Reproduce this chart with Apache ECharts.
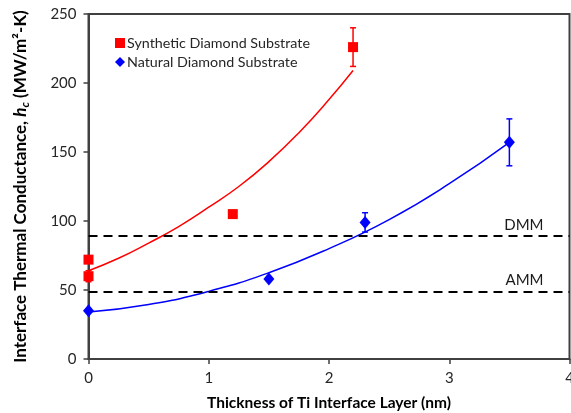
<!DOCTYPE html>
<html>
<head>
<meta charset="utf-8">
<script src="https://cdn.jsdelivr.net/npm/echarts@6/dist/echarts.min.js"></script>
<style>
  html, body { margin: 0; padding: 0; background: #fff; }
  #chart { width: 571px; height: 413px; }
</style>
</head>
<body>
<div id="chart"></div>
<script>
// Measured interface conductance (MW/m^2-K) vs. Ti layer thickness (nm)
const synthX = [0, 0, 1.2, 2.2];
const synthY = [72, 60, 105, 226];
const synthErr = [0, 4, 0, 14];

const naturalX = [0, 1.5, 2.3, 3.5];
const naturalY = [35, 58, 99, 157];
const naturalErr = [0, 0, 7, 17];

// Trend curves through each data set
const synthFitX = [0, 0.25, 0.5, 0.75, 1, 1.25, 1.5, 1.75, 2, 2.2];
const synthFitY = [64, 73, 84, 96, 110, 125, 143, 164, 188, 209];
const naturalFitX = [0, 0.5, 1, 1.5, 2, 2.5, 3, 3.5];
const naturalFitY = [34, 39.5, 49, 62.5, 80, 101, 127, 157];

// Model predictions (horizontal reference lines)
const modelNames = ['DMM', 'AMM'];
const modelValues = [89, 49];

const xTicks = [0, 1, 2, 3, 4];
const yTicks = [0, 50, 100, 150, 200, 250];

const FONT = 'Lato, "Open Sans", sans-serif';
const RED = '#ff0000';
const BLUE = '#0000ff';
const AXIS = '#404040';

const zip = (xs, ys) => xs.map((x, i) => [x, ys[i]]);

function errorBars(name, xs, ys, es, color) {
  const data = [];
  xs.forEach((x, i) => { if (es[i] > 0) data.push([x, ys[i] - es[i], ys[i] + es[i]]); });
  return {
    name: name,
    type: 'custom',
    data: data,
    encode: { x: 0, y: [1, 2] },
    silent: true,
    z: 3,
    renderItem(params, api) {
      const lo = api.coord([api.value(0), api.value(1)]);
      const hi = api.coord([api.value(0), api.value(2)]);
      const w = 3;
      const style = { stroke: color, lineWidth: 1.5 };
      return {
        type: 'group',
        children: [
          { type: 'line', shape: { x1: lo[0], y1: lo[1], x2: hi[0], y2: hi[1] }, style },
          { type: 'line', shape: { x1: lo[0] - w, y1: lo[1], x2: lo[0] + w, y2: lo[1] }, style },
          { type: 'line', shape: { x1: hi[0] - w, y1: hi[1], x2: hi[0] + w, y2: hi[1] }, style }
        ]
      };
    }
  };
}

const chart = echarts.init(document.getElementById('chart'), null, { renderer: 'canvas' });

chart.setOption({
  animation: false,
  backgroundColor: '#fff',
  textStyle: { fontFamily: FONT },
  grid: {
    left: 88.5, right: 1.5, top: 14, bottom: 54,
    containLabel: false,
    outerBoundsMode: 'none',
    show: true, borderColor: AXIS, borderWidth: 2, backgroundColor: 'transparent'
  },
  legend: {
    orient: 'vertical',
    left: 115, top: 36, padding: 0,
    itemWidth: 10, itemHeight: 10, itemGap: 5,
    textStyle: { fontFamily: FONT, fontSize: 14.3, color: '#262626', padding: [0, 0, 0, -3] },
    data: [
      { name: 'Synthetic Diamond Substrate', icon: 'rect' },
      { name: 'Natural Diamond Substrate', icon: 'diamond' }
    ]
  },
  xAxis: {
    type: 'value', min: 0, max: 4, interval: 1,
    name: 'Thickness of Ti Interface Layer (nm)',
    nameLocation: 'middle', nameGap: 36,
    nameTextStyle: { fontFamily: FONT, fontSize: 15.5, fontWeight: 'bold', color: '#000' },
    axisLine: { show: true, lineStyle: { color: AXIS, width: 2 } },
    axisTick: { show: true, length: 5, lineStyle: { color: AXIS, width: 1.5 } },
    axisLabel: { fontFamily: FONT, fontSize: 15, color: '#262626', margin: 12 },
    splitLine: { show: false }
  },
  yAxis: {
    type: 'value', min: 0, max: 250, interval: 50,
    name: '{b|Interface Thermal Conductance, }{i|h}{s|c}{b| (MW/m²-K)}',
    nameLocation: 'middle', nameRotate: 90, nameGap: 57,
    nameTextStyle: {
      rich: {
        b: { fontFamily: FONT, fontSize: 17, fontWeight: 'bold', color: '#000', lineHeight: 21 },
        i: { fontFamily: FONT, fontSize: 17, fontWeight: 'bold', fontStyle: 'italic', color: '#000', lineHeight: 21 },
        s: { fontFamily: FONT, fontSize: 12, fontWeight: 'bold', fontStyle: 'italic', color: '#000', lineHeight: 12, verticalAlign: 'bottom' }
      }
    },
    axisLine: { show: true, lineStyle: { color: AXIS, width: 2 } },
    axisTick: { show: true, length: 5, lineStyle: { color: AXIS, width: 1.5 } },
    axisLabel: { fontFamily: FONT, fontSize: 15, color: '#262626', margin: 12 },
    splitLine: { show: false }
  },
  series: [
    {
      name: 'synthetic fit',
      type: 'line',
      data: zip(synthFitX, synthFitY),
      smooth: 0.5,
      showSymbol: false, silent: true,
      lineStyle: { color: RED, width: 1.5 },
      z: 2
    },
    {
      name: 'natural fit',
      type: 'line',
      data: zip(naturalFitX, naturalFitY),
      smooth: 0.5,
      showSymbol: false, silent: true,
      lineStyle: { color: BLUE, width: 1.5 },
      z: 2,
      markLine: {
        silent: true,
        symbol: ['none', 'none'],
        lineStyle: { color: '#000', width: 2, type: [9, 6] },
        label: {
          show: true, position: 'insideEndTop', distance: [26, 4],
          formatter: '{b}', fontFamily: FONT, fontSize: 15, color: '#1a1a1a'
        },
        data: modelNames.map((n, i) => ({ name: n, yAxis: modelValues[i] }))
      }
    },
    errorBars('synthetic error', synthX, synthY, synthErr, RED),
    errorBars('natural error', naturalX, naturalY, naturalErr, BLUE),
    {
      name: 'Synthetic Diamond Substrate',
      type: 'scatter',
      data: zip(synthX, synthY),
      symbol: 'rect', symbolSize: 10,
      itemStyle: { color: RED, opacity: 1 },
      z: 4
    },
    {
      name: 'Natural Diamond Substrate',
      type: 'scatter',
      data: zip(naturalX, naturalY),
      symbol: 'diamond', symbolSize: [11, 13],
      itemStyle: { color: BLUE, opacity: 1 },
      z: 4
    }
  ]
});
</script>
</body>
</html>
